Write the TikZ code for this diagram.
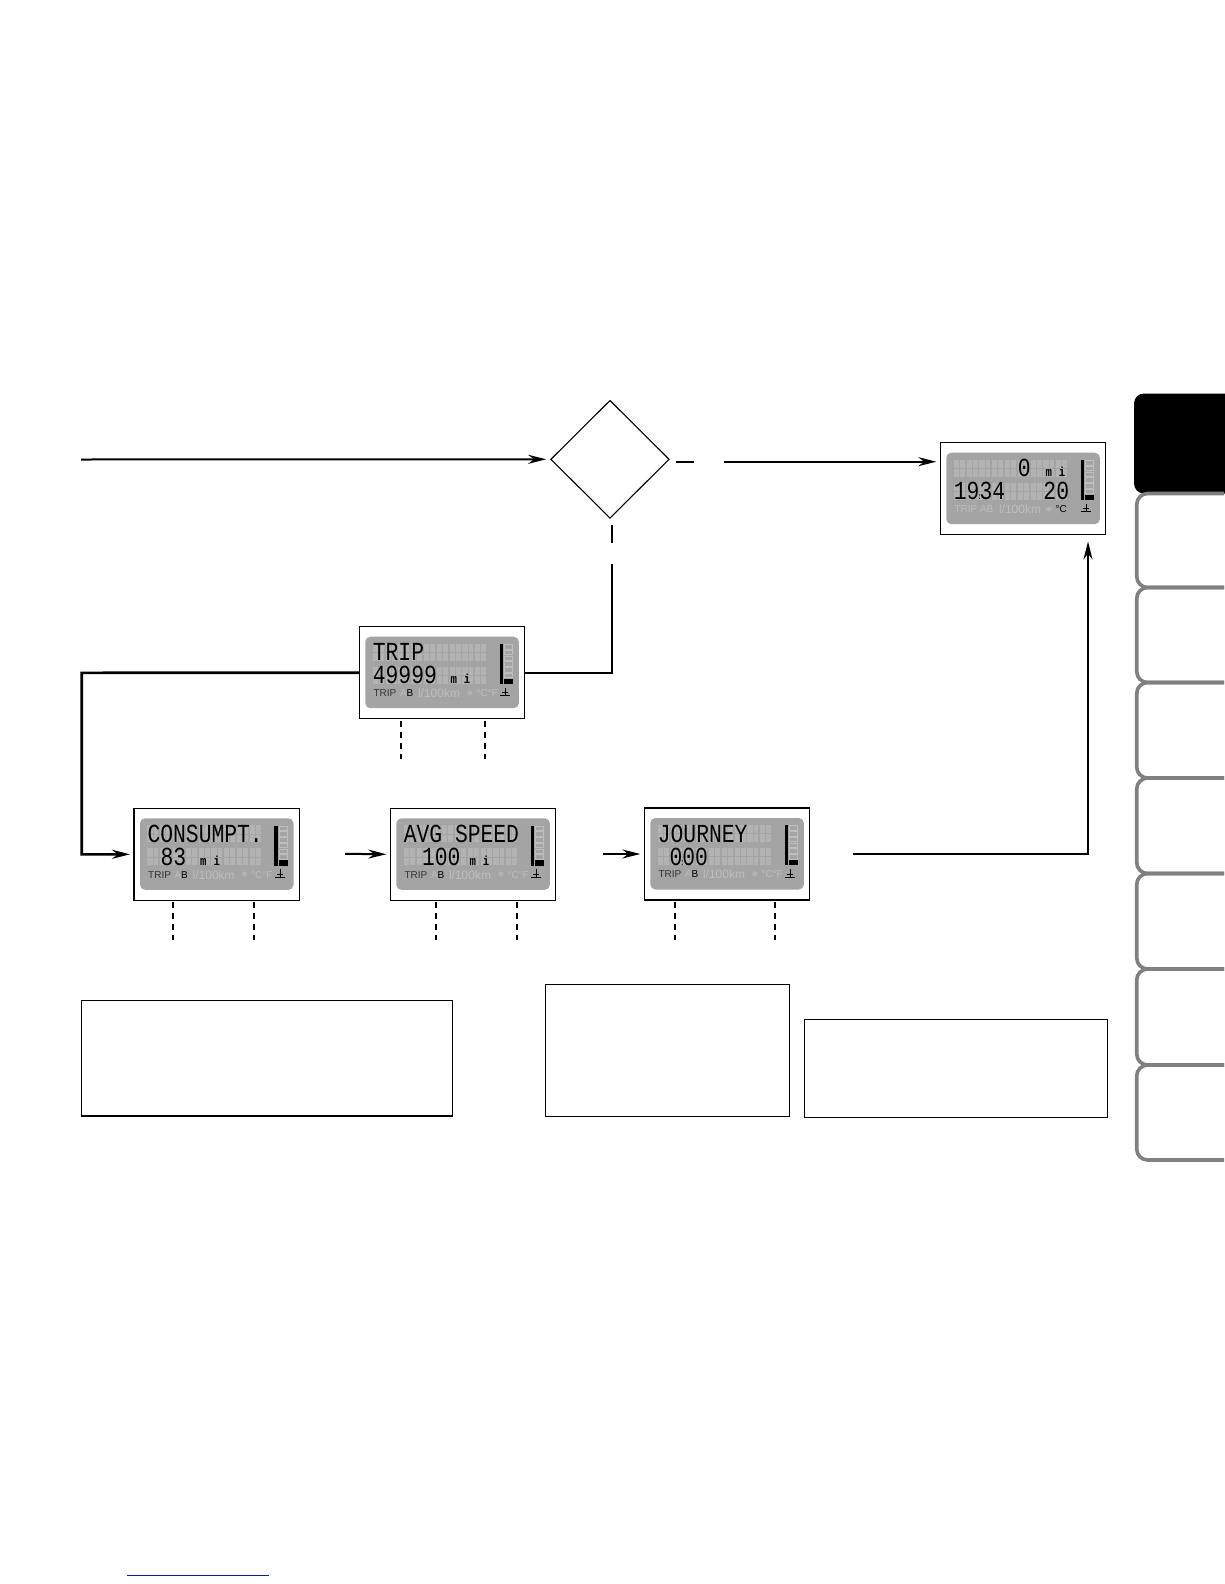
\documentclass[tikz,border=0pt]{standalone}
\usepackage{fontspec}
\setmainfont{Liberation Sans}
\newfontfamily\lcdfont[FakeStretch=0.82]{Liberation Mono}
\newfontfamily\iconfont{DejaVu Sans}
\usetikzlibrary{arrows.meta,shapes.geometric}

\definecolor{panel}{HTML}{A4A4A4}
\definecolor{ghost}{HTML}{B3B3B3}
\definecolor{faint}{HTML}{BEBEBE}
\definecolor{tabgray}{HTML}{808080}
\definecolor{linkblue}{HTML}{0A1E96}

\tikzset{
  screenbox/.style={draw,line width=1.2pt,inner sep=0pt,outer sep=0pt,minimum width=165.5pt,minimum height=92pt},
  notebox/.style={draw,line width=1.2pt,inner sep=0pt,outer sep=0pt,anchor=north west},
  flow/.style={line width=2pt,-{Stealth[length=18pt,width=9pt]},shorten >=4pt},
  feed/.style={line width=2pt},
  stub/.style={line width=2pt,dash pattern=on 6pt off 5pt},
  lcdline/.style={inner sep=0pt,anchor=base west,font=\lcdfont\fontsize{26}{26}\selectfont},
  lcdunit/.style={inner sep=0pt,anchor=base west,font=\lcdfont\bfseries\fontsize{13}{13}\selectfont},
  legend/.style={inner sep=0pt,anchor=west,font=\fontsize{10}{10}\selectfont,text=black!80},
  dimmed/.style={legend,text=faint},
  fuel/.style={dimmed,font=\fontsize{12}{12}\selectfont},
  snow/.style={dimmed,font=\iconfont\fontsize{8}{8}\selectfont},
}

\newcommand{\clockdots}{\makebox[0pt]{\fontsize{9}{9}\selectfont :}}

% name, x, y, top line, low line, offset of low line
\newcommand{\lcdscreen}[6]{
  \node[screenbox,anchor=north west] (#1) at (#2,#3) {};
  \begin{scope}[shift={(#1.north west)}]
    \fill[panel,rounded corners=5pt] (6,10) rectangle (159.5,81.5);
    \foreach \i in {0,...,8} {
      \fill[ghost] (13.4+12.8*\i,17) rectangle +(11,17);
      \fill[ghost] (13.4+12.8*\i,40) rectangle +(11,17);
      \draw[panel,line width=.5pt] (13.4+12.8*\i,25.5) -- +(11,0) (13.4+12.8*\i,48.5) -- +(11,0) (18.9+12.8*\i,17) -- +(0,17) (18.9+12.8*\i,40) -- +(0,17);
    }
    \fill (140.4,17.3) rectangle (143.6,57.3);
    \foreach \i in {0,...,5} {
      \draw[faint,line width=.8pt] (145,17.8+5.7*\i) rectangle +(8.5,4.6);
    }
    \fill (144.6,52) rectangle (153.6,57.3);
    \draw[line width=.8pt] (146,61) -- (146,69) (141,69) -- (151,69) (143,66) -- (149,66);
    \node[lcdline] (#1top) at (13.4,34) {#4};
    \node[lcdline] (#1low) at (#6,57) {#5};
  \end{scope}
}

% name, x, y of the distance unit inside a screen
\newcommand{\lcdmiles}[3]{
  \begin{scope}[shift={(#1.north west)}]
    \node[lcdunit] (#1unit) at (#2,#3) {m\hspace{7pt}i};
  \end{scope}
}

% legend of the four trip screens
\newcommand{\triplegend}[1]{
  \begin{scope}[shift={(#1.north west)}]
    \node[legend] (#1trip) at (14,66.5) {TRIP};
    \node[dimmed] (#1a) at (40.5,66.5) {A};
    \node[legend,text=black] (#1b) at (47,66.5) {B};
    \node[fuel] (#1fuel) at (58.5,66.5) {l/100km};
    \node[snow] (#1snow) at (107,66.5) {❄};
    \node[dimmed] (#1temp) at (117,66.5) {°C°F};
  \end{scope}
}

\begin{document}
\begin{tikzpicture}[x=1pt,y=-1pt]
  \useasboundingbox (0,0) rectangle (1224,1584);

  % Thumb tabs on the right edge.
  \fill[rounded corners=10pt] (1240,393.5) -- (1134,393.5) -- (1134,493.5) -- (1240,493.5) -- cycle;
  \foreach \tabtop/\tabbot in {493.5/587.5,587.5/682.5,682.5/778,778/873.5,873.5/969,969/1065,1065/1160} {
    \draw[tabgray,line width=3.6pt,rounded corners=11pt] (1224,\tabtop) -- (1136.7,\tabtop) -- (1136.7,\tabbot) -- (1224,\tabbot);
  }

  % Question and the screens.
  \node[draw,diamond,line width=1.1pt,inner sep=0pt,minimum width=118.6pt,minimum height=118pt] (check) at (610,459.3) {};

  \lcdscreen{odobox}{940.3}{442.7}{\phantom{00000}0}{19\clockdots 34\phantom{000}20}{13.4}
  \lcdscreen{tripbox}{359.3}{626.7}{TRIP}{49999}{13.4}
  \lcdscreen{consumptbox}{134}{808.3}{CONSUMPT.}{83}{26.5}
  \lcdscreen{avgbox}{390.3}{808.3}{AVG SPEED}{100}{31.5}
  \lcdscreen{journeybox}{644.3}{808}{JOURNEY}{0\clockdots 00}{25}
  \lcdmiles{odobox}{105}{34}
  \lcdmiles{tripbox}{91}{57}
  \lcdmiles{consumptbox}{66}{57}
  \lcdmiles{avgbox}{79}{57}
  \triplegend{tripbox}
  \triplegend{consumptbox}
  \triplegend{avgbox}
  \triplegend{journeybox}

  \begin{scope}[shift={(odobox.north west)}]
    \node[dimmed] (odotrip) at (14,66.5) {TRIP AB};
    \node[fuel] (odofuel) at (58.5,66.5) {l/100km};
    \node[snow] (odosnow) at (105,66.5) {❄};
    \node[legend,text=black] (ododeg) at (115,66.5) {°C};
  \end{scope}

  % Empty note boxes under the screens.
  \node[notebox,minimum width=371pt,minimum height=115.7pt] (noteleft) at (81.3,1000.3) {};
  \node[notebox,minimum width=244pt,minimum height=132pt] (notemid) at (545.4,984.2) {};
  \node[notebox,minimum width=303pt,minimum height=98pt] (noteright) at (804.3,1019.3) {};

  % Free ends of the connectors.
  \coordinate (entry) at (81,459.5);
  \coordinate (yesdash) at (676,461.7);
  \coordinate (yesdashend) at (694,461.7);
  \coordinate (yesrun) at (724,461.7);
  \coordinate (nodash) at (612,525);
  \coordinate (nodashend) at (612,542.7);
  \coordinate (norun) at (612,564.3);
  \coordinate (leftrail) at (81.7,672.8);
  \coordinate (avgin) at (345,853.8);
  \coordinate (journeyin) at (602.7,854);
  \coordinate (journeyout) at (852.5,853.5);
  \coordinate (odoin) at (1088,537.5);
  \coordinate (linkstart) at (127,1575);
  \coordinate (linkend) at (269,1575);

  \draw[flow] (entry) -- (check.west);
  \draw[feed] (yesdash) -- (yesdashend);
  \draw[flow] (yesrun) -- (yesrun -| odobox.west);
  \draw[feed] (nodash) -- (nodashend);
  \draw[feed] (norun) |- (tripbox.east);
  \draw[flow,line width=2.6pt] (tripbox.west) -- (leftrail) |- (consumptbox.west);
  \draw[flow] (avgin) -- (avgbox.west);
  \draw[flow] (journeyin) -- (journeybox.west);
  \draw[flow] (journeyout) -| (odoin);

  % Dashed stubs below the screens.
  \foreach \boxname/\stubx in {tripbox/401,tripbox/485,consumptbox/173,consumptbox/253.7,avgbox/435.7,avgbox/517,journeybox/674.7,journeybox/775} {
    \draw[stub] (\stubx,0 |- \boxname.south) ++(0,2) -- ++(0,38);
  }

  \draw[linkblue,line width=1pt] (linkstart) -- (linkend);
\end{tikzpicture}
\end{document}
